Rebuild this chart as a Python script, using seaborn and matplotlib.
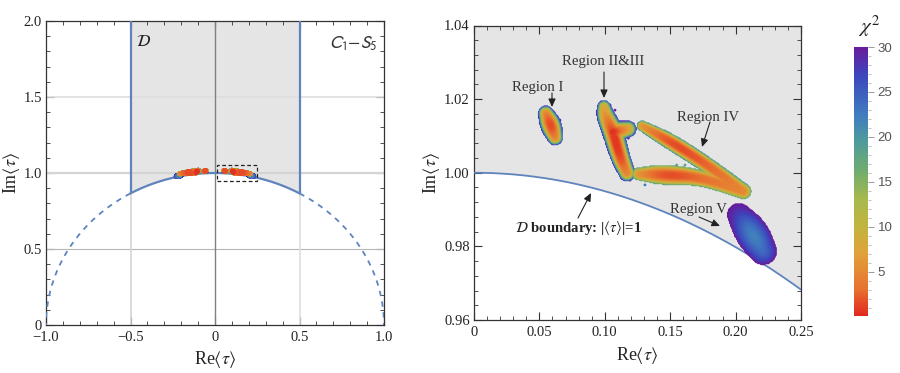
import numpy as np
import pandas as pd
import matplotlib
matplotlib.use("Agg")
import matplotlib.pyplot as plt
from matplotlib.colors import LinearSegmentedColormap, Normalize
from matplotlib.cm import ScalarMappable
from matplotlib.patches import Rectangle
from matplotlib.ticker import MultipleLocator, FixedLocator, FixedFormatter
import seaborn as sns

# ---- data: x, y, half width (px), chi2 on the ridge ----
region_i = [(.0549, 1.0161, 7, 5), (.0587, 1.0130, 10.5, .5), (.0620, 1.0096, 7, 5)]
region_ii_iii = [(.0994, 1.01786, 6, 8), (.1002, 1.01569, 8.5, 6), (.1063, 1.01107, 10, .5),
                 (.1116, 1.00428, 9, 1), (.1170, .99993, 7.5, 5)]
region_branch = [(.1063, 1.01107, 10, .5), (.1177, 1.01188, 7.5, 7)]
region_iv_up = [(.1286, 1.0127, 4.5, 6), (.1502, 1.0085, 7.5, 1), (.1781, 1.0022, 7, 2.5), (.2060, .99495, 7, 5)]
region_iv_low = [(.1260, .99965, 5.5, 6), (.1451, .99946, 10, 1), (.1730, .9988, 7, 3), (.2060, .99495, 7, 5)]
region_v = [(.2026, .98852, 11, 28), (.2125, .98363, 17, 21), (.2209, .97874, 13, 24)]
regions = [region_i, region_ii_iii, region_branch, region_iv_up, region_iv_low, region_v]
region_edge = [30, 30, 30, 22, 19, 30]
region_power = [2.5, 2.5, 2.5, 2.5, 2.5, 1.5]

speckle_x = [.0657, .0619, .0525, .0971, .1040, .1078, .1154, .1205, .1211, .1180, .1129, .1193, .1205,
             .1287, .1307, .1498, .1550, .1256, .1307, .1550, .1613]
speckle_y = [1.0143, 1.0080, 1.0168, 1.0190, 1.0184, 1.0170, 1.0134, 1.0116, 1.0105, 1.0094, .9989, .9980, 1.0007,
             1.0134, 1.0134, 1.0103, 1.0084, 1.0007, .9967, 1.0021, 1.0021]
speckle_chi = [29, 29, 26, 29, 29, 29, 29, 29, 29, 29, 29, 29, 29,
               16, 23, 23, 23, 18, 23, 18, 18]

cbar_ticks = [5, 10, 15, 20, 25, 30]
chi_colors = ["#e0281e", "#e8702f", "#e0a238", "#c2b43f", "#a8b94e", "#73ad6a",
              "#4f9b9c", "#3f7cbf", "#3d45bd", "#6a1b9a"]
chi_stops = [0.1, 3, 7, 10, 13, 16, 19.5, 22.5, 27, 30]

BLUE = "#5f84bd"
GREY = "#e5e5e5"
INK = "#222222"
W, H = 900, 373

sns.set_theme(style="ticks")
plt.rcParams["font.family"] = ["Liberation Serif", "DejaVu Serif"]
plt.rcParams["mathtext.fontset"] = "stix"
plt.rcParams["axes.grid"] = False


def px_axes(l, t, r, b):
    return fig.add_axes([l / W, 1 - b / H, (r - l) / W, (b - t) / H])


def rounded(k, passes=3):
    """Corner cutting, so that a ridge bends without kinks."""
    for _ in range(passes):
        mid = np.empty((2 * (len(k) - 1), k.shape[1]))
        mid[0::2] = .75 * k[:-1] + .25 * k[1:]
        mid[1::2] = .25 * k[:-1] + .75 * k[1:]
        k = np.vstack([k[:1], mid, k[-1:]])
    return k


norm = Normalize(0.1, 30)
cmap = LinearSegmentedColormap.from_list(
    "chi", [((s - .1) / 29.9, c) for s, c in zip(chi_stops, chi_colors)])

SX, SY = 1308.0, 3681.0
gx, gy = np.meshgrid(np.arange(0.04, 0.24, 1 / SX), np.arange(.972, 1.024, 1 / SY))
gx, gy = gx.ravel(), gy.ravel()
field = np.full(gx.shape, np.inf)
for knots, edge, power in zip(regions, region_edge, region_power):
    k = rounded(np.array(knots, float))
    for a, b in zip(k[:-1], k[1:]):
        dx, dy = (b[0] - a[0]) * SX, (b[1] - a[1]) * SY
        px, py = (gx - a[0]) * SX, (gy - a[1]) * SY
        t = np.clip((px * dx + py * dy) / (dx * dx + dy * dy + 1e-9), 0, 1)
        d = np.hypot(px - t * dx, py - t * dy)
        w = a[2] + t * (b[2] - a[2])
        c0 = a[3] + t * (b[3] - a[3])
        v = c0 + (edge - c0) * (d / w) ** power
        v[d > w] = np.inf
        field = np.minimum(field, v)
keep = np.isfinite(field)
pts = pd.DataFrame({"x": np.r_[gx[keep], speckle_x], "y": np.r_[gy[keep], speckle_y],
                    "chi": np.r_[field[keep], speckle_chi]}).sort_values("chi", ascending=False)

fig = plt.figure(figsize=(W / 100, H / 100), dpi=100)


def style(ax):
    for s in ax.spines.values():
        s.set_color("#333333")
        s.set_linewidth(.9)
    ax.tick_params(which="both", direction="in", top=True, right=True, color="#333333",
                   labelcolor=INK, labelsize=10.5)
    ax.tick_params(axis="x", which="major", pad=4.5)
    ax.tick_params(axis="y", which="major", pad=3)
    ax.tick_params(which="major", length=5.5, width=.8)
    ax.tick_params(which="minor", length=3, width=.6)


def place_labels(ax, xpos, ypos):
    """xpos, ypos: label centres in figure pixels."""
    ax.set_xlabel(r"Re$\langle\tau\rangle$", fontsize=13, color=INK)
    ax.set_ylabel(r"Im$\langle\tau\rangle$", fontsize=13, color=INK)
    tf = fig.transFigure
    ax.xaxis.set_label_coords(xpos[0] / W, 1 - xpos[1] / H, transform=tf)
    ax.yaxis.set_label_coords(ypos[0] / W, 1 - ypos[1] / H, transform=tf)
    ax.xaxis.label.set_va("center")
    ax.yaxis.label.set_va("center")


# ---- left panel ----
ax = px_axes(46, 21, 384, 325)
style(ax)
ax.set_xlim(-1, 1)
ax.set_ylim(0, 2)
arc = np.linspace(-.5, .5, 300)
ax.fill_between(arc, np.sqrt(1 - arc ** 2), 2, color=GREY, lw=0, zorder=0)
ax.axhline(1.5, color="#dedede", lw=1.2, zorder=1)
ax.axhline(1.0, color="#d4d4d4", lw=1.6, zorder=1)
ax.axhline(.5, color="#b5b5b5", lw=.8, zorder=1)
ax.axvline(0, color="#808080", lw=1, zorder=1)
ax.plot([-.5, -.5], [0, .866], color="#d4d4d4", lw=1.2, zorder=1)
ax.plot([.5, .5], [0, .866], color="#dedede", lw=1.2, zorder=1)
ax.plot(arc, np.sqrt(1 - arc ** 2), color=BLUE, lw=1.6, zorder=3)
ax.plot([-.5, -.5], [.866, 2], color=BLUE, lw=1.6, zorder=3)
ax.plot([.5, .5], [.866, 2], color=BLUE, lw=1.6, zorder=3)
for sgn in (-1, 1):
    side = np.linspace(.5, 1, 200)
    ax.plot(sgn * side, np.sqrt(1 - side ** 2), color=BLUE, lw=1.3, ls=(0, (3, 3)), zorder=3)
    sns.scatterplot(data=pts.assign(x=sgn * pts.x), x="x", y="y", hue="chi", palette=cmap,
                    hue_norm=norm, legend=False, s=10, linewidth=0, ax=ax, zorder=4)
ax.add_patch(Rectangle((.01, .95), .24, .10, fill=False, ec=INK, lw=.9, ls=(0, (3, 2)), zorder=5))
ax.xaxis.set_minor_locator(MultipleLocator(.1))
ax.yaxis.set_minor_locator(MultipleLocator(.1))
ax.xaxis.set_major_locator(FixedLocator([-1, -.5, 0, .5, 1]))
ax.xaxis.set_major_formatter(FixedFormatter(["\u22121.0", "\u22120.5", "0", "0.5", "1.0"]))
ax.yaxis.set_major_locator(FixedLocator([0, .5, 1, 1.5, 2]))
ax.yaxis.set_major_formatter(FixedFormatter(["0", "0.5", "1.0", "1.5", "2.0"]))
place_labels(ax, (215, 360), (11, 173))
ax.text(-.47, 1.86, r"$\mathcal{D}$", fontsize=12, color=INK, va="center")
ax.text(.96, 1.85, r"$C_1{-}S_5$", fontsize=13, color="#333333", va="center", ha="right",
        math_fontfamily="stixsans")

# ---- right panel ----
ax2 = px_axes(474, 25.5, 801, 320)
style(ax2)
ax2.set_xlim(0, .25)
ax2.set_ylim(.96, 1.04)
arc2 = np.linspace(0, .25, 200)
ax2.fill_between(arc2, np.sqrt(1 - arc2 ** 2), 1.04, color=GREY, lw=0, zorder=0)
ax2.plot(arc2, np.sqrt(1 - arc2 ** 2), color=BLUE, lw=1.3, zorder=3)
sns.scatterplot(data=pts, x="x", y="y", hue="chi", palette=cmap, hue_norm=norm, legend=False,
                s=4, linewidth=0, ax=ax2, zorder=4)
ax2.xaxis.set_major_locator(FixedLocator([0, .05, .1, .15, .2, .25]))
ax2.xaxis.set_major_formatter(FixedFormatter(["0", "0.05", "0.10", "0.15", "0.20", "0.25"]))
ax2.xaxis.set_minor_locator(MultipleLocator(.01))
ax2.yaxis.set_major_locator(FixedLocator([.96, .98, 1, 1.02, 1.04]))
ax2.yaxis.set_major_formatter(FixedFormatter(["0.96", "0.98", "1.00", "1.02", "1.04"]))
ax2.yaxis.set_minor_locator(MultipleLocator(.004))
place_labels(ax2, (637, 356), (431, 173))


def fp(x, y):
    return (x, H - y)


arrow = dict(arrowstyle="-|>,head_width=.18,head_length=.4", color=INK, lw=.8, shrinkA=0, shrinkB=0)
labels = [("Region I", 538, 87, (552, 93), (552, 107)),
          ("Region II&III", 603, 62, (604, 72), (604, 98)),
          ("Region IV", 708, 117, (710, 122), (702, 147)),
          ("Region V", 698, 209, (699, 217), (720, 226))]
for txt, tx, ty, start, end in labels:
    ax2.annotate(txt, xy=fp(tx, ty), xycoords="figure pixels", ha="center", va="center",
                 fontsize=10.6, color="#333333", zorder=6)
    ax2.annotate("", xy=fp(*end), xytext=fp(*start), xycoords="figure pixels", textcoords="figure pixels",
                 arrowprops=arrow, zorder=6)
ax2.annotate(r"$\mathcal{D}$ boundary: |$\langle\tau\rangle$|=1", xy=fp(578, 228), xycoords="figure pixels",
             ha="center", va="center", fontsize=10.6, fontweight="bold", color=INK, zorder=6)
ax2.annotate("", xy=fp(591, 193), xytext=fp(578, 218), xycoords="figure pixels", textcoords="figure pixels",
             arrowprops=arrow, zorder=6)

# ---- colour bar ----
cax = px_axes(854, 47, 868, 316)
cb = fig.colorbar(ScalarMappable(norm=norm, cmap=cmap), cax=cax)
cb.outline.set_visible(False)
cb.set_ticks(cbar_ticks)
cb.ax.yaxis.set_minor_locator(MultipleLocator(1))
cax.tick_params(which="major", length=4, width=.7, color="#999999", labelcolor="#555555", labelsize=9.5, pad=3)
cax.tick_params(which="minor", length=2, width=.5, color="#aaaaaa")
for t in cax.get_yticklabels():
    t.set_family("Liberation Sans")
fig.text(869 / W, 1 - 26 / H, r"$\chi^2$", fontsize=15, ha="center", va="center", color=INK)

fig.savefig("out.png", dpi=100, facecolor="white")
